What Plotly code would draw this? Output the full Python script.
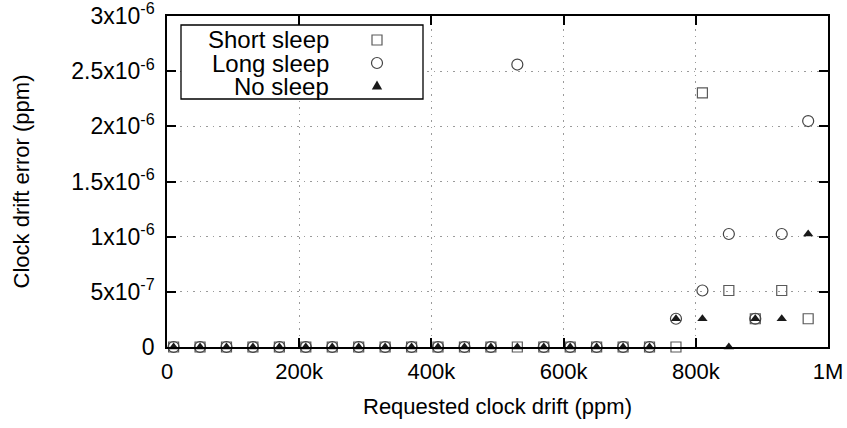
import plotly.graph_objects as go

# ---- data ----
drift = [10000, 50000, 90000, 130000, 170000, 210000, 250000, 290000, 330000,
         370000, 410000, 450000, 490000, 530000, 570000, 610000, 650000, 690000,
         730000, 770000, 810000, 850000, 890000, 930000, 970000]

short_sleep = [0]*19 + [0, 2.304e-6, 5.12e-7, 2.56e-7, 5.12e-7, 2.56e-7]
long_sleep = [0]*13 + [2.56e-6] + [0]*5 + [2.56e-7, 5.12e-7, 1.024e-6, 2.56e-7, 1.024e-6, 2.048e-6]
no_sleep = [0]*19 + [2.56e-7, 2.56e-7, 0, 2.56e-7, 2.56e-7, 1.024e-6]

series_names = ["Short sleep", "Long sleep", "No sleep"]

x_tickvals = [0, 200000, 400000, 600000, 800000, 1000000]
x_ticktext = ["0", "200k", "400k", "600k", "800k", "1M"]
y_tickvals = [0, 5e-7, 1e-6, 1.5e-6, 2e-6, 2.5e-6, 3e-6]
y_ticktext = ["0", "5x10<sup>-7</sup>", "1x10<sup>-6</sup>", "1.5x10<sup>-6</sup>",
              "2x10<sup>-6</sup>", "2.5x10<sup>-6</sup>", "3x10<sup>-6</sup>"]

FONT = "Liberation Sans, Arial, Helvetica, sans-serif"

fig = go.Figure()
fig.add_trace(go.Scatter(x=drift, y=short_sleep, mode="markers", name=series_names[0],
                         cliponaxis=False,
                         marker=dict(symbol="square-open", size=10, color="#5a5a5a",
                                     line=dict(width=1.2, color="#5a5a5a"))))
fig.add_trace(go.Scatter(x=drift, y=long_sleep, mode="markers", name=series_names[1],
                         cliponaxis=False,
                         marker=dict(symbol="circle-open", size=11, color="#444444",
                                     line=dict(width=1.2, color="#444444"))))
fig.add_trace(go.Scatter(x=drift, y=no_sleep, mode="markers", name=series_names[2],
                         cliponaxis=False,
                         marker=dict(symbol="triangle-up", size=9, color="#1a1a1a",
                                     line=dict(width=0))))

axis_common = dict(showline=True, linecolor="black", linewidth=1.5, mirror="ticks",
                   ticks="inside", ticklen=9, tickwidth=1.5, tickcolor="black",
                   showgrid=True, gridcolor="#9a9a9a", griddash="1.5px,5px", gridwidth=1.2,
                   zeroline=False, automargin=False, ticklabeloverflow="allow")

fig.update_xaxes(range=[0, 1000000], tickvals=x_tickvals, ticktext=x_ticktext,
                 tickfont=dict(family=FONT, size=22, color="black"),
                 title=dict(text="Requested clock drift (ppm)",
                            font=dict(family=FONT, size=22, color="black"), standoff=15),
                 ticklabelstandoff=4, **axis_common)
fig.update_yaxes(range=[0, 3e-6], tickvals=y_tickvals, ticktext=y_ticktext,
                 tickfont=dict(family=FONT, size=23, color="black"),
                 title=dict(text="Clock drift error (ppm)",
                            font=dict(family=FONT, size=22, color="black"), standoff=36),
                 ticklabelstandoff=6, **axis_common)

# ---- legend drawn gnuplot-style (text right, symbol right of text) ----
plot_w, plot_h = 661.0, 331.0
def px_x(p):
    return (p - 167) / plot_w
def px_y(p):
    return (347 - p) / plot_h

shapes = [dict(type="rect", xref="paper", yref="paper",
               x0=px_x(181), x1=px_x(423), y0=px_y(99), y1=px_y(25),
               line=dict(color="black", width=1.3), fillcolor="white", layer="above")]
annotations = []
row_y = [40, 63, 86]
sym_x = px_x(377)
for name, ry in zip(series_names, row_y):
    annotations.append(dict(text=name, xref="paper", yref="paper", x=px_x(331), y=px_y(ry),
                            xanchor="right", yanchor="middle", showarrow=False,
                            font=dict(family=FONT, size=24, color="black")))
# square
shapes.append(dict(type="rect", xref="paper", yref="paper", xsizemode="pixel", ysizemode="pixel",
                   xanchor=sym_x, yanchor=px_y(row_y[0]), x0=-5, x1=5, y0=-5, y1=5,
                   line=dict(color="#5a5a5a", width=1.2), layer="above"))
# circle
shapes.append(dict(type="circle", xref="paper", yref="paper", xsizemode="pixel", ysizemode="pixel",
                   xanchor=sym_x, yanchor=px_y(row_y[1]), x0=-5.5, x1=5.5, y0=-5.5, y1=5.5,
                   line=dict(color="#444444", width=1.2), layer="above"))
# triangle
shapes.append(dict(type="path", xref="paper", yref="paper", xsizemode="pixel", ysizemode="pixel",
                   xanchor=sym_x, yanchor=px_y(row_y[2]),
                   path="M -5.2 -3.4 L 5.2 -3.4 L 0 5.4 Z",
                   fillcolor="#1a1a1a", line=dict(width=0), layer="above"))

fig.update_layout(width=847, height=428, margin=dict(l=167, r=19, t=16, b=81, autoexpand=False),
                  plot_bgcolor="white", paper_bgcolor="white", showlegend=False,
                  font=dict(family=FONT, color="black"),
                  shapes=shapes, annotations=annotations)

fig.write_html("out.html")
